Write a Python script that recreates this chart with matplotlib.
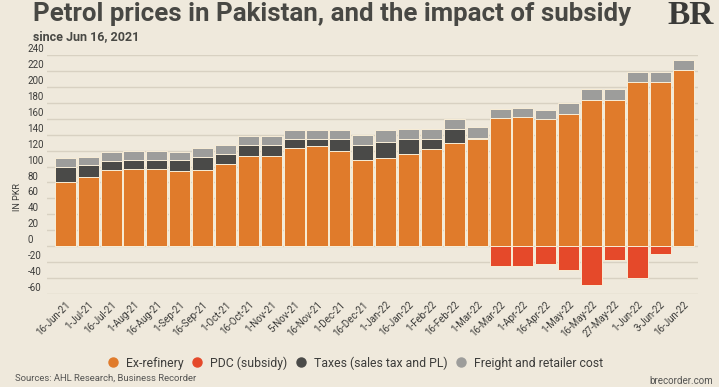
import matplotlib.pyplot as plt
from matplotlib.lines import Line2D
from matplotlib.transforms import ScaledTranslation
import numpy as np

plt.rcParams["font.family"] = ["Roboto", "DejaVu Sans"]

dates = ["16-Jun-21", "1-Jul-21", "16-Jul-21", "1-Aug-21", "16-Aug-21", "1-Sep-21",
         "16-Sep-21", "1-Oct-21", "16-Oct-21", "1-Nov-21", "5-Nov-21", "16-Nov-21",
         "1-Dec-21", "16-Dec-21", "1-Jan-22", "16-Jan-22", "1-Feb-22", "16-Feb-22",
         "1-Mar-22", "16-Mar-22", "1-Apr-22", "16-Apr-22", "1-May-22", "16-May-22",
         "27-May-22", "1-Jun-22", "3-Jun-22", "16-Jun-22"]

ex_refinery = [80.8, 87.0, 96.2, 97.0, 97.0, 94.6, 95.4, 102.9, 113.0, 113.0, 123.8, 125.5,
               119.7, 108.0, 110.9, 116.3, 121.8, 129.7, 134.7, 160.3, 162.3, 159.4, 166.5,
               183.3, 183.3, 206.3, 206.3, 220.9]
taxes = [18.4, 14.7, 10.9, 11.8, 11.8, 13.8, 16.3, 12.6, 13.8, 13.8, 10.5, 8.8, 14.6, 19.6,
         20.1, 18.0, 12.5, 17.6, 1.7, 0, 0, 0, 0, 0, 0, 0, 0, 0]
freight = [11.7, 10.8, 11.3, 11.2, 11.2, 10.0, 11.7, 11.7, 10.9, 10.9, 12.1, 12.1, 12.1, 12.6,
           14.6, 13.4, 13.4, 12.1, 13.4, 12.5, 11.7, 11.7, 13.4, 13.4, 13.4, 12.9, 12.9, 12.6]
pdc = [0] * 19 + [-24.7, -24.7, -21.8, -30.1, -48.1, -17.6, -40.2, -10.0, 0]

yticks = list(range(-60, 241, 20))

BG = "#EFE9DC"
C_EX = "#E07B2B"
C_PDC = "#E5492A"
C_TAX = "#4A4A48"
C_FR = "#9D9D9B"
TXT = "#3C3C3A"

fig = plt.figure(figsize=(7.19, 3.87), dpi=100, facecolor=BG)
ax = fig.add_axes([47 / 719, 93 / 387, 651 / 719, 239 / 387], facecolor=BG)

x = np.arange(len(dates))
ex = np.array(ex_refinery)
tx = np.array(taxes)
fr = np.array(freight)
kw = dict(width=0.92, edgecolor="#F8EDD6", linewidth=0.7, zorder=3)
ax.bar(x, ex, color=C_EX, **kw)
ax.bar(x, tx, bottom=ex, color=C_TAX, **kw)
ax.bar(x, fr, bottom=ex + tx, color=C_FR, **kw)
ax.bar(x, pdc, color=C_PDC, **kw)

ax.set_xlim(-0.8, 27.65)
ax.set_ylim(-60, 240)
ax.set_yticks(yticks)
ax.set_yticklabels([str(v) for v in yticks])
ax.grid(axis="y", color="#D8D1C2", linewidth=1, zorder=0)
for s in ax.spines.values():
    s.set_visible(False)
ax.tick_params(axis="y", length=0, pad=14, labelsize=7, labelcolor=TXT)
for lbl in ax.get_yticklabels():
    lbl.set_horizontalalignment("left")
    lbl.set_transform(lbl.get_transform() + ScaledTranslation(0, 5 / 72, fig.dpi_scale_trans))

ax.set_xticks(x)
ax.set_xticklabels(dates, rotation=45, ha="right", rotation_mode="anchor")
ax.tick_params(axis="x", length=0, pad=4, labelsize=7, labelcolor=TXT)

fig.text(17 / 719, 190 / 387, "IN PKR", rotation=90, ha="center", va="center",
         fontsize=6.5, color=TXT)

fig.text(33 / 719, 1 - 14 / 387, "Petrol prices in Pakistan, and the impact of subsidy",
         fontsize=18.6, fontweight="bold", color="#484844", ha="left", va="center")
fig.text(33 / 719, 1 - 37 / 387, "since Jun 16, 2021", fontsize=9, fontweight="bold",
         color="#484844", ha="left", va="center")
fig.text(714 / 719, 1 - 15 / 387, "BR", fontsize=24, fontweight="bold",
         family="Liberation Serif", color="#3A3A38", ha="right", va="center")

handles = [Line2D([], [], marker="o", linestyle="", markersize=6.5, color=c)
           for c in (C_EX, C_PDC, C_TAX, C_FR)]
names = ["Ex-refinery", "PDC (subsidy)", "Taxes (sales tax and PL)", "Freight and retailer cost"]
fig.legend(handles, names, loc="center", bbox_to_anchor=(355 / 719, 1 - 363 / 387), ncol=4,
           frameon=False, fontsize=8.8, handlelength=1.0, handletextpad=0.55,
           columnspacing=0.6, labelcolor=TXT)

fig.text(15 / 719, 1 - 378 / 387, "Sources: AHL Research, Business Recorder", fontsize=6.8,
         color="#555553", ha="left", va="center")
fig.text(713 / 719, 1 - 381 / 387, "brecorder.com", fontsize=7, color="#555553",
         ha="right", va="center")

fig.savefig("out.png", dpi=100, facecolor=BG)
